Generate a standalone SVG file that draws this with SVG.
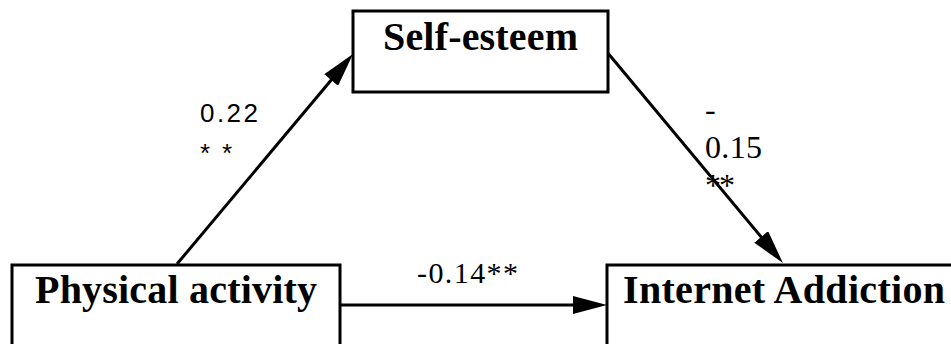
<svg xmlns="http://www.w3.org/2000/svg" width="951" height="344" viewBox="0 0 951 344">
<style>
.box{fill:#fff;stroke:#000;stroke-width:3}
.node{font-family:"Liberation Serif","Times New Roman",serif;font-weight:bold;font-size:40px;fill:#000}
.lab{font-family:"Liberation Serif","Times New Roman",serif;font-size:32px;fill:#000}
.sans{font-family:"Liberation Sans",Arial,sans-serif;font-size:26px;fill:#000}
.edge{stroke:#000;stroke-width:3;fill:none}
</style>
<defs>
<marker id="ah" markerUnits="userSpaceOnUse" markerWidth="34" markerHeight="18" refX="6" refY="9" orient="auto" viewBox="0 0 34 18">
<path d="M0,0 L34,9 L0,18 z" fill="#000"/>
</marker>
</defs>
<rect width="951" height="344" fill="#fff"/>
<g id="connectors">
<line class="edge" x1="177" y1="264" x2="335" y2="75.5" marker-end="url(#ah)"/>
<line class="edge" x1="607" y1="52" x2="765" y2="241.5" marker-end="url(#ah)"/>
<line class="edge" x1="340" y1="305" x2="579" y2="305" marker-end="url(#ah)"/>
<text class="sans" x="200" y="122" textLength="58">0.22</text>
<text class="sans" x="200" y="162" textLength="32">**</text>
<text class="lab" x="705" y="120">-</text>
<text class="lab" x="705" y="158" textLength="57">0.15</text>
<text class="lab" x="705" y="196" textLength="30">**</text>
<text class="lab" x="417" y="283" style="font-size:30px" textLength="101">-0.14**</text>
</g>
<g id="self-esteem">
<rect class="box" x="353" y="11" width="255" height="81"/>
<text class="node" x="383" y="50" textLength="195">Self-esteem</text>
</g>
<g id="physical-activity">
<rect class="box" x="12" y="265" width="328" height="100"/>
<text class="node" x="35" y="303" textLength="282">Physical activity</text>
</g>
<g id="internet-addiction">
<rect class="box" x="607" y="265" width="360" height="100"/>
<text class="node" x="623" y="303" textLength="322">Internet Addiction</text>
</g>
</svg>
